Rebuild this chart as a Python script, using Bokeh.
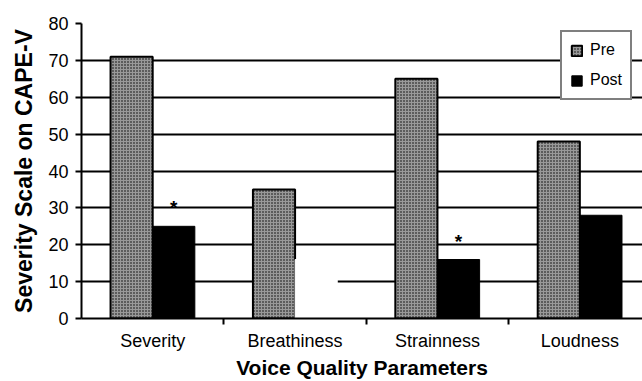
from bokeh.plotting import figure
from bokeh.models import Range1d, FixedTicker, ColumnDataSource, Legend, LegendItem
from bokeh.core.properties import value
from bokeh.embed import file_html
from bokeh.resources import INLINE

categories = ["Severity", "Breathiness", "Strainness", "Loudness"]
pre_values = [71, 35, 65, 48]
post_values = [25, 16, 16, 28]
significance = ["*", "", "*", ""]
y_ticks = [0, 10, 20, 30, 40, 50, 60, 70, 80]

FONT = "Liberation Sans"
n = len(categories)
centers = [i + 0.5 for i in range(n)]
bw = 0.296

p = figure(width=642, height=381, output_backend="svg", toolbar_location=None,
           x_range=Range1d(0, 3.94), y_range=Range1d(0, 80),
           min_border_left=81, min_border_right=0, min_border_top=23, min_border_bottom=0)
p.outline_line_color = None
p.background_fill_color = "white"
p.border_fill_color = "white"

pre_src = ColumnDataSource(dict(x=[c - bw / 2 for c in centers], top=pre_values))
post_src = ColumnDataSource(dict(x=[c + bw / 2 for c in centers], top=post_values,
                                 fill=["black", "white", "black", "black"],
                                 line=["black", "white", "black", "black"]))

r_pre = p.vbar(x="x", top="top", width=bw, source=pre_src, fill_color="#999999",
               hatch_pattern="dot", hatch_color="black", hatch_scale=3, hatch_weight=1.3,
               line_color="black", line_width=2)
r_post = p.vbar(x="x", top="top", width=bw, source=post_src, fill_color="fill",
                line_color="line", line_width=1)

sig_src = ColumnDataSource(dict(x=[c + bw / 2 for c in centers], y=post_values, t=significance))
p.text(x="x", y="y", text="t", source=sig_src, text_font=value(FONT), text_font_size="19px",
       text_font_style="bold", text_align="center", text_baseline="bottom", y_offset=-8,
       text_color="black")

legend = Legend(items=[LegendItem(label="Pre", renderers=[r_pre]),
                       LegendItem(label="Post", renderers=[r_post], index=0)],
                location=(479, 218))
legend.label_text_font = FONT
legend.label_text_font_size = "16px"
legend.label_text_color = "black"
legend.glyph_width = 13
legend.glyph_height = 13
legend.label_height = 20
legend.spacing = 10
legend.padding = 8
legend.margin = 0
legend.label_standoff = 7
legend.border_line_color = "black"
legend.border_line_width = 2
legend.background_fill_alpha = 1
p.add_layout(legend)

# y axis
p.yaxis.ticker = FixedTicker(ticks=y_ticks)
p.yaxis.axis_label = "Severity Scale on CAPE-V"
p.yaxis.axis_label_text_font = FONT
p.yaxis.axis_label_text_font_style = "bold"
p.yaxis.axis_label_text_font_size = "23px"
p.yaxis.axis_label_text_color = "black"
p.yaxis.axis_label_standoff = 8
p.yaxis.major_label_text_font = FONT
p.yaxis.major_label_text_font_size = "18px"
p.yaxis.major_label_standoff = 7
p.yaxis.major_tick_out = 6
p.yaxis.major_tick_in = 0
p.yaxis.minor_tick_out = 0
p.yaxis.minor_tick_in = 0
p.yaxis.axis_line_width = 2
p.yaxis.major_tick_line_width = 2
p.yaxis.axis_line_color = "black"
p.yaxis.major_label_text_color = "black"

# x axis
p.xaxis.ticker = FixedTicker(ticks=centers, minor_ticks=[1, 2, 3])
p.xaxis.major_label_overrides = {c: lab for c, lab in zip(centers, categories)}
p.xaxis.axis_label = "Voice Quality Parameters"
p.xaxis.axis_label_text_font = FONT
p.xaxis.axis_label_text_font_style = "bold"
p.xaxis.axis_label_text_font_size = "21px"
p.xaxis.axis_label_text_color = "black"
p.xaxis.axis_label_standoff = 2
p.xaxis.major_label_text_font = FONT
p.xaxis.major_label_text_font_size = "18px"
p.xaxis.major_label_standoff = 6
p.xaxis.major_tick_out = 0
p.xaxis.major_tick_in = 0
p.xaxis.minor_tick_out = 6
p.xaxis.minor_tick_in = 0
p.xaxis.minor_tick_line_width = 2
p.xaxis.axis_line_width = 2
p.xaxis.axis_line_color = "black"
p.xaxis.major_label_text_color = "black"

p.xgrid.visible = False
p.ygrid.ticker = FixedTicker(ticks=y_ticks)
p.ygrid.grid_line_color = "black"
p.ygrid.grid_line_width = 2

open("out.html", "w").write(file_html(p, INLINE))
